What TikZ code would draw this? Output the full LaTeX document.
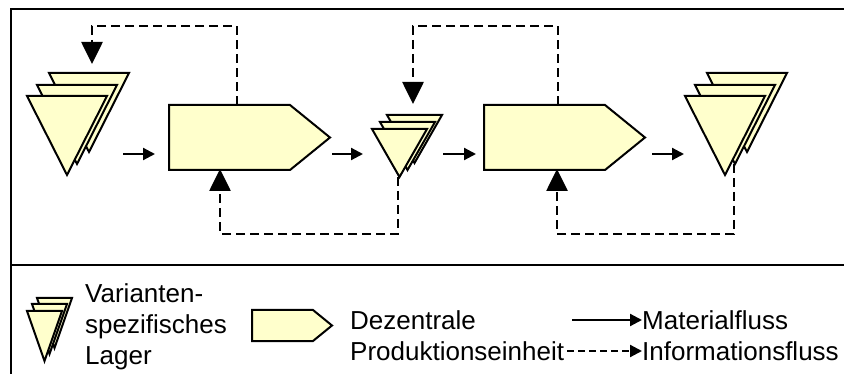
\documentclass[tikz,border=0pt]{standalone}
\usepackage{fontspec}
\setmainfont{Liberation Sans}
\usetikzlibrary{arrows.meta}
\definecolor{shapefill}{HTML}{FFFFCC}
\newcommand{\onetri}[4]{\filldraw[shp] (#1,#2) -- ++(#3,0) -- ++(-#3/2,#4) -- cycle;}
\newcommand{\tristack}[8]{% x y w h dx1 dy1 dx2 dy2 (front triangle top-left)
  \onetri{#1+#7}{#2+#8}{#3}{#4}
  \onetri{#1+#5}{#2+#6}{#3}{#4}
  \onetri{#1}{#2}{#3}{#4}}
\newcommand{\pentshape}[1]{\filldraw[shp] (#1.north west) -- ([xshift=-\pentpt]#1.north east) -- (#1.east) -- ([xshift=-\pentpt]#1.south east) -- (#1.south west) -- cycle;}
\def\pentpt{40pt}
\begin{document}
\begin{tikzpicture}[x=1pt,y=-1pt,
  shp/.style={draw=black,fill=shapefill,line width=2pt,line join=miter},
  pbox/.style={inner sep=0pt,outer sep=0pt,minimum width=#1},
  frame/.style={line width=2.6pt},
  info/.style={line width=2.7pt,dash pattern=on 9pt off 5pt,-{Triangle[length=22pt,width=21pt]}},
  mat/.style={line width=2.2pt,-{Triangle[length=12pt,width=12pt]}},
  legmat/.style={line width=2.2pt,-{Triangle[length=12pt,width=12pt]}},
  leginfo/.style={line width=2.2pt,dash pattern=on 7pt off 4pt,-{Triangle[length=12pt,width=12pt]}},
  lbl/.style={font=\fontsize{26}{31}\selectfont,anchor=base west,inner sep=0pt}]
\useasboundingbox (0,0) rectangle (844,374);
% frame
\draw[frame] (11,374) -- (11,9) -- (844,9);
\draw[frame] (11,265) -- (844,265);
% stacks
\tristack{27}{96}{80}{79}{10}{-11}{22}{-23}
\tristack{372}{129}{55}{48}{8}{-7}{15}{-14}
\tristack{685}{96}{80}{79}{10}{-11}{22}{-23}
\coordinate (s1apex) at (67,175);
\coordinate (s2apex) at (398,177);
\coordinate (s3apex) at (735,164);
% production units
\node[pbox=161pt,minimum height=65pt] (pe1) at (249.5,137.5) {};
\node[pbox=161pt,minimum height=65pt] (pe2) at (564.5,137.5) {};
\pentshape{pe1}
\pentshape{pe2}
% material flow
\coordinate (m1a) at (123,154); \coordinate (m1b) at (155,154);
\coordinate (m2a) at (332,154); \coordinate (m2b) at (363,154);
\coordinate (m3a) at (443,154); \coordinate (m3b) at (476,154);
\coordinate (m4a) at (652,154); \coordinate (m4b) at (684,154);
\draw[mat] (m1a) -- (m1b);
\draw[mat] (m2a) -- (m2b);
\draw[mat] (m3a) -- (m3b);
\draw[mat] (m4a) -- (m4b);
% information flow
\coordinate (toprow) at (0,26);
\coordinate (botrow) at (0,234);
\coordinate (in1) at (92,64);
\coordinate (in2) at (413,104);
\draw[info] ([xshift=-12.5pt]pe1.north) -- ([xshift=-12.5pt]pe1.north |- toprow) -| (in1);
\draw[info] ([xshift=-6.5pt]pe2.north) -- ([xshift=-6.5pt]pe2.north |- toprow) -| (in2);
\draw[info] (s2apex) -- (s2apex |- botrow) -| ([xshift=-29.5pt,yshift=1pt]pe1.south);
\draw[info] ([xshift=-1pt]s3apex) -- ([xshift=-1pt]s3apex |- botrow) -| ([xshift=-7.5pt,yshift=1pt]pe2.south);
% legend
\tristack{27}{311}{35}{50}{5}{-7}{10}{-13}
\node[pbox=80pt,minimum height=31pt] (lpe) at (292,325.5) {};
{\def\pentpt{19pt}\pentshape{lpe}}
\node[lbl] (l1) at (85,303) {Varianten-};
\node[lbl] (l2) at (85,334) {spezifisches};
\node[lbl] (l3) at (85,364) {Lager};
\node[lbl] (l4) at (350,330) {Dezentrale};
\node[lbl] (l5) at (350,360) {Produktionseinheit};
\node[lbl] (l6) at (642,330) {Materialfluss};
\node[lbl] (l7) at (642,360) {Informationsfluss};
\coordinate (lm) at (572,320);
\coordinate (li) at (567,351);
\draw[legmat] (lm) -- (l6.west |- lm);
\draw[leginfo] (li) -- (l7.west |- li);
\end{tikzpicture}
\end{document}
